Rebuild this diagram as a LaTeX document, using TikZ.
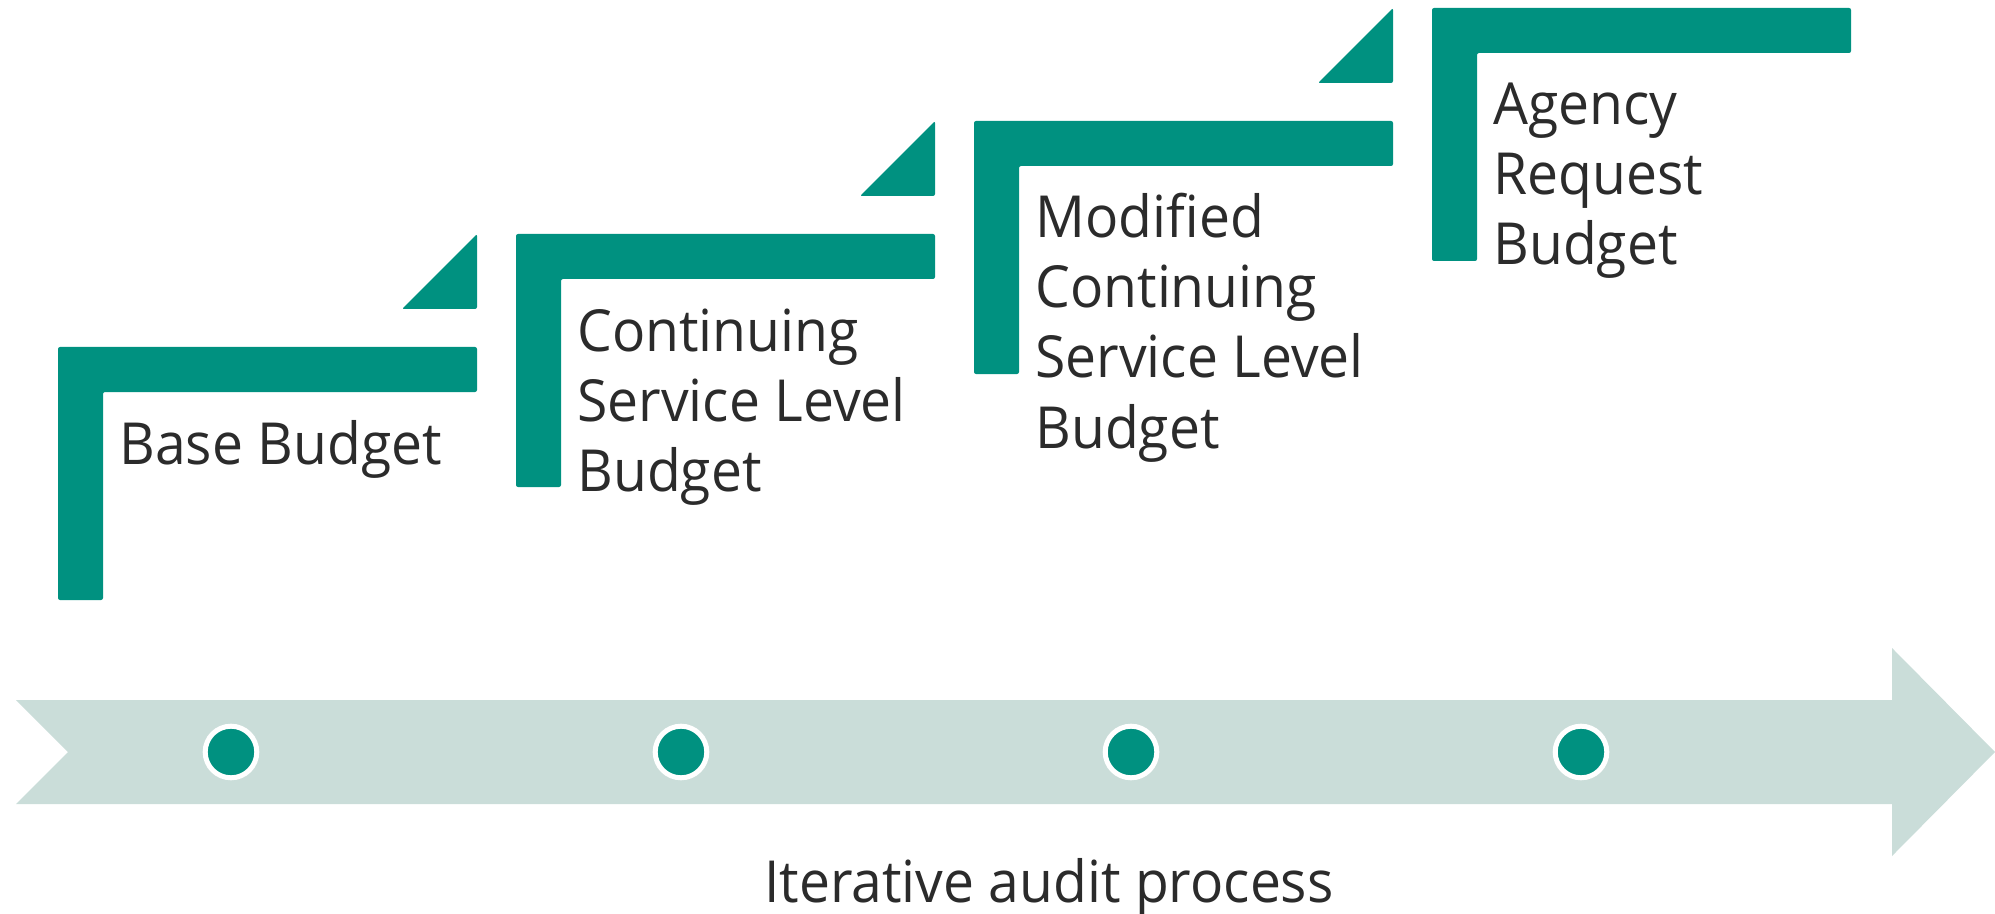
\documentclass[tikz,border=0pt]{standalone}
\usepackage{fontspec}
\setmainfont{Open Sans}[FakeStretch=0.952]
\definecolor{stepgreen}{HTML}{009180}
\definecolor{bandgrey}{HTML}{CADDD9}
\definecolor{textgrey}{HTML}{2B2B2B}

\begin{document}
\begin{tikzpicture}[x=0.5pt,y=-0.5pt,
        stepbar/.style={fill=stepgreen,rounded corners=1pt},
        steplabel/.style={anchor=base west,align=left,inner sep=0pt,text=textgrey,
            font=\fontsize{29}{35}\selectfont},
        dot/.style={circle,fill=stepgreen,draw=white,line width=2.5pt,inner sep=0pt,minimum size=25.8pt}]
        \useasboundingbox (0,0) rectangle (1995,914);
        % band with the arrow head
        \fill[bandgrey] (16,700) -- (1892,700) -- (1892,648) -- (1995,752) -- (1892,856)
            -- (1892,804) -- (16,804) -- (68,752) -- cycle;
        % the four steps (\n = number of lines, the base is on the last one)
        \foreach \i/\n/\txt in {0/1/Base Budget,1/3/Continuing\\Service Level\\Budget,
            2/4/Modified\\Continuing\\Service Level\\Budget,3/3/Agency\\Request\\Budget}{
            \pgfmathsetmacro{\x}{58+458*\i}
            \pgfmathsetmacro{\y}{347-113*\i}
            \fill[stepbar] (\x,\y) -- ++(419,0) -- ++(0,45) -- ++(-374,0) -- ++(0,208)
                -- ++(-45,0) -- cycle;
            \ifnum\i<3
                \fill[stepbar] (\x+344,\y-38) -- ++(75,0) -- ++(0,-75) -- cycle;
            \fi
            \node[steplabel] (label\i) at (\x+61,\y+117+70*\n-70) {\txt};
            \node[dot] (dot\i) at (231+450*\i,752) {};
        }
        \node[anchor=base,inner sep=0pt,text=textgrey,font=\fontsize{29}{35}\selectfont]
            (caption) at (1049,902) {Iterative audit process};
\end{tikzpicture}
\end{document}
